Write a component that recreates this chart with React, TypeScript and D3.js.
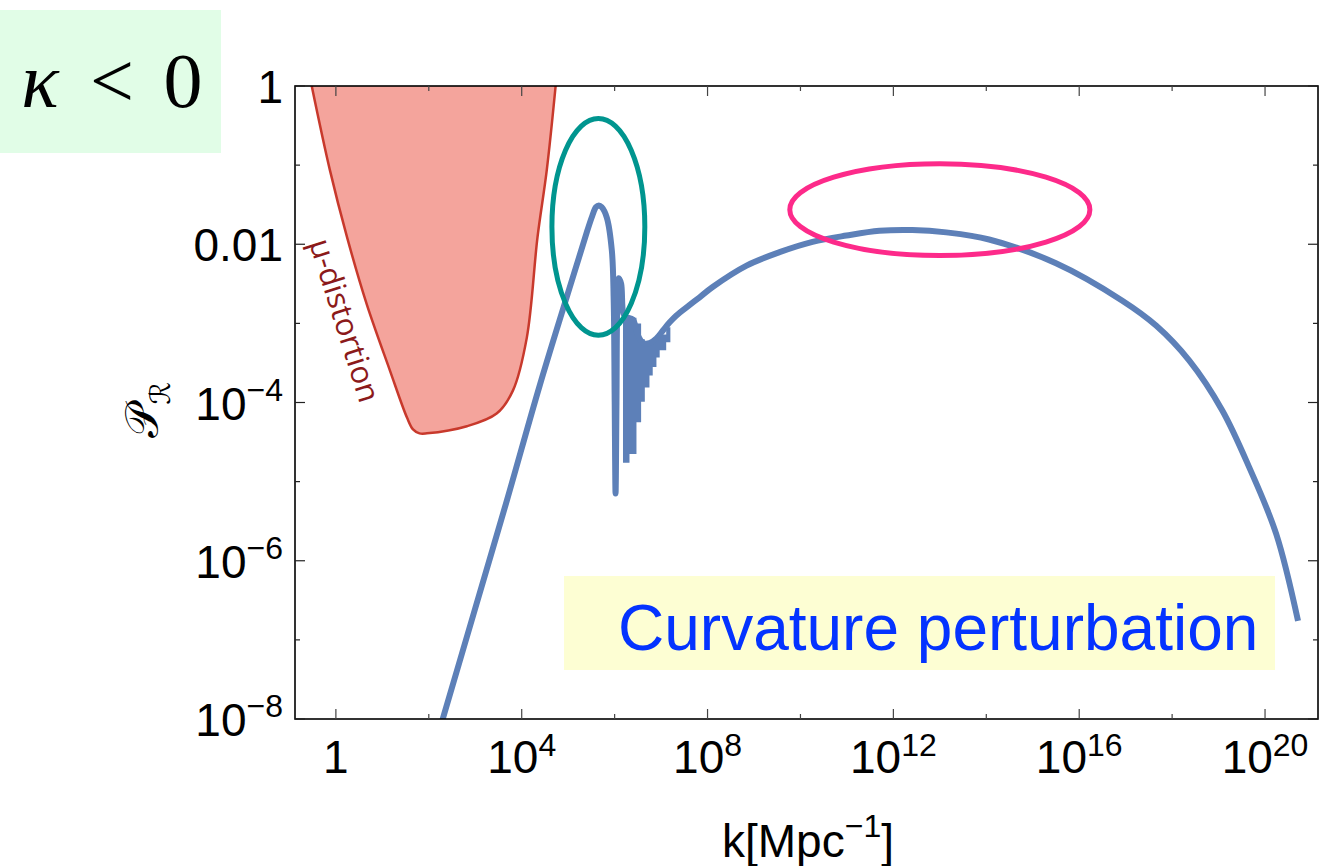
import React from 'react';
import * as d3 from 'd3';

const W = 1324;
const H = 866;

// axis ticks (exponents of 10)
const xTickExps = [0, 2, 4, 6, 8, 10, 12, 14, 16, 18, 20];
const xLabelExps = [0, 4, 8, 12, 16, 20];
const yTickExps = [-8, -7, -6, -5, -4, -3, -2, -1, 0];
const yLabelExps = [-8, -6, -4, -2, 0];

// curvature perturbation spectrum: log10 k and log10 P
const curveLogK = [2.2, 3.0, 3.68, 4.39, 5.1, 5.4, 5.52, 5.6, 5.66, 5.72, 5.83, 5.94, 5.98, 6.0, 6.02, 6.04, 6.06, 6.09, 6.14, 6.19, 6.25, 6.39, 6.5, 6.62, 6.75, 6.9, 7.04, 7.18, 7.33, 7.61, 7.83, 8.11, 8.84, 9.55, 10.26, 10.99, 11.7, 12.41, 13.14, 14.06, 15.5, 16.92, 17.66, 18.37, 19.08, 19.66, 20.24, 20.71];
const curveLogP = [-8.2, -6.6, -5.24, -3.78, -2.42, -1.85, -1.64, -1.53, -1.51, -1.53, -1.66, -2.08, -2.71, -3.9, -5.15, -4.0, -2.7, -2.43, -2.5, -2.88, -2.92, -2.95, -3.15, -3.25, -3.25, -3.19, -3.09, -2.99, -2.9, -2.77, -2.67, -2.54, -2.27, -2.1, -1.97, -1.89, -1.83, -1.82, -1.85, -1.94, -2.24, -2.71, -3.03, -3.47, -4.1, -4.82, -5.66, -6.76];

// dense oscillation band
const bandLogK = [6.18, 6.32, 6.47, 6.57, 6.65, 6.75, 6.82, 6.9, 6.97, 7.11, 7.2];
const bandLow = [-4.76, -4.65, -4.25, -3.99, -3.81, -3.66, -3.55, -3.43, -3.34, -3.24, -3.1];
const bandHigh = [-2.9, -2.93, -3.0, -3.2, -3.25, -3.25, -3.22, -3.19, -3.14, -3.05, -3.0];

// mu-distortion excluded region boundary
const muLogK = [-0.52, -0.13, 0.24, 0.66, 1.16, 1.53, 1.66, 1.8, 1.96, 2.82, 3.46, 3.81, 4.11, 4.34, 4.54, 4.73];
const muLogP = [0, -1.06, -1.91, -2.75, -3.59, -4.19, -4.34, -4.39, -4.39, -4.3, -4.14, -3.85, -3.18, -1.91, -1.06, 0];

// annotation ellipses: centre (log k, log P), radii in decades
const tealEllipse = { ck: 5.65, cp: -1.78, rk: 1.0, rp: 1.37 };
const pinkEllipse = { ck: 13.0, cp: -1.563, rk: 3.23, rp: 0.58 };

const FONT = '"Liberation Sans", Arial, Helvetica, sans-serif';

export default function App() {
  const left = 295, right = 1318, top = 86, bottom = 719;
  const x = d3.scaleLog().domain([10 ** -0.88, 10 ** 21.14]).range([left, right]);
  const y = d3.scaleLog().domain([1e-8, 1]).range([bottom, top]);
  const lx = (e: number) => x(10 ** e);
  const ly = (e: number) => y(10 ** e);

  const line = d3.line<[number, number]>().x(d => lx(d[0])).y(d => ly(d[1])).curve(d3.curveCatmullRom.alpha(0.5));

  const curvePts = curveLogK.map((k, i) => [k, curveLogP[i]] as [number, number]);
  const curvePath = line(curvePts) || '';

  const bandPts = bandLogK.map((k, i) => ({ k, lo: bandLow[i], hi: bandHigh[i] }));
  const bandPath = d3.area<{ k: number; lo: number; hi: number }>()
    .x(d => lx(d.k)).y0(d => ly(d.lo)).y1(d => ly(d.hi)).curve(d3.curveStepAfter)(bandPts) || '';

  const muPts = muLogK.map((k, i) => [k, muLogP[i]] as [number, number]);
  const muPath = line(muPts) || '';

  const ell = (e: { ck: number; cp: number; rk: number; rp: number }) => ({
    cx: lx(e.ck), cy: ly(e.cp), rx: lx(e.ck + e.rk) - lx(e.ck), ry: ly(e.cp - e.rp) - ly(e.cp),
  });
  const te = ell(tealEllipse);
  const pe = ell(pinkEllipse);

  const blue = '#5d80b8';

  return (
    <svg width={W} height={H} style={{ position: 'absolute', left: 0, top: 0, background: '#fff' }}>
      <defs>
        <clipPath id="plotclip">
          <rect x={left} y={top} width={right - left} height={bottom - top} />
        </clipPath>
      </defs>
      {/* kappa box */}
      <rect x={0} y={10} width={221} height={143} fill="#e1fde7" />
      <text x={40} y={107} fontFamily='"Liberation Serif", "DejaVu Serif", serif' fontStyle="italic" fontSize={78} textAnchor="middle">κ</text>
      <text x={112} y={107} fontFamily='"Liberation Serif", "DejaVu Serif", serif' fontSize={78} textAnchor="middle">&lt;</text>
      <text x={183} y={107} fontFamily='"Liberation Serif", "DejaVu Serif", serif' fontSize={78} textAnchor="middle">0</text>

      {/* curvature perturbation box */}
      <rect x={564} y={576} width={711} height={94} fill="#fdfed3" />
      <text x={618} y={650} fontFamily={FONT} fontSize={64} fill="#0433ff">Curvature perturbation</text>

      <g clipPath="url(#plotclip)">
        <path d={muPath} fill="#f4a49c" stroke="#c8392c" strokeWidth={2.5} />
        <path d={bandPath} fill={blue} stroke="none" />
        <path d={curvePath} fill="none" stroke={blue} strokeWidth={6} strokeLinejoin="round" />
        <ellipse cx={te.cx} cy={te.cy} rx={te.rx} ry={te.ry} fill="none" stroke="#00958f" strokeWidth={5} />
        <ellipse cx={pe.cx} cy={pe.cy} rx={pe.rx} ry={pe.ry} fill="none" stroke="#fd2a8a" strokeWidth={5} />
      </g>

      <text transform="translate(346,320) rotate(72.5)" fontFamily='"Open Sans", "DejaVu Sans", sans-serif' fontSize={31} fill="#8b1a1a" textAnchor="middle" dominantBaseline="central">μ-distortion</text>

      {/* frame */}
      <rect x={left} y={top} width={right - left} height={bottom - top} fill="none" stroke="#000" strokeWidth={1.6} />

      {/* x ticks */}
      {xTickExps.map(e => {
        const len = xLabelExps.includes(e) ? 10 : 5;
        const px = lx(e);
        return (
          <g key={'xt' + e} stroke="#444" strokeWidth={1.2}>
            <line x1={px} x2={px} y1={bottom} y2={bottom - len} />
            <line x1={px} x2={px} y1={top} y2={top + len} />
          </g>
        );
      })}
      {/* y ticks */}
      {yTickExps.map(e => {
        const len = yLabelExps.includes(e) ? 10 : 5;
        const py = ly(e);
        return (
          <g key={'yt' + e} stroke="#222" strokeWidth={1.2}>
            <line x1={left} x2={left + len} y1={py} y2={py} />
            <line x1={right} x2={right - len} y1={py} y2={py} />
          </g>
        );
      })}

      {/* x labels */}
      {xLabelExps.map(e => (
        <text key={'xl' + e} x={lx(e)} y={773} fontFamily={FONT} fontSize={46} textAnchor="middle">
          {e === 0 ? '1' : (<>
            <tspan>10</tspan>
            <tspan dy={-17} fontSize={32}>{e}</tspan>
          </>)}
        </text>
      ))}
      {/* y labels */}
      {yLabelExps.map(e => (
        <text key={'yl' + e} x={283} y={ly(e) + 17} fontFamily={FONT} fontSize={46} textAnchor="end">
          {e === 0 ? '1' : e === -2 ? '0.01' : (<>
            <tspan>10</tspan>
            <tspan dy={-19} fontSize={32}>{'\u2212' + Math.abs(e)}</tspan>
          </>)}
        </text>
      ))}

      {/* axis titles */}
      <text x={808} y={857} fontFamily={FONT} fontSize={46} textAnchor="middle">
        <tspan>k[Mpc</tspan>
        <tspan dy={-20} fontSize={32}>{'\u22121'}</tspan>
        <tspan dy={20}>]</tspan>
      </text>
      <text transform="translate(158,410) rotate(-90)" fontFamily='"DejaVu Serif", "DejaVu Sans", serif' fontSize={46} textAnchor="middle">
        <tspan>𝒫</tspan>
        <tspan dy={12} fontSize={28}>ℛ</tspan>
      </text>
    </svg>
  );
}
